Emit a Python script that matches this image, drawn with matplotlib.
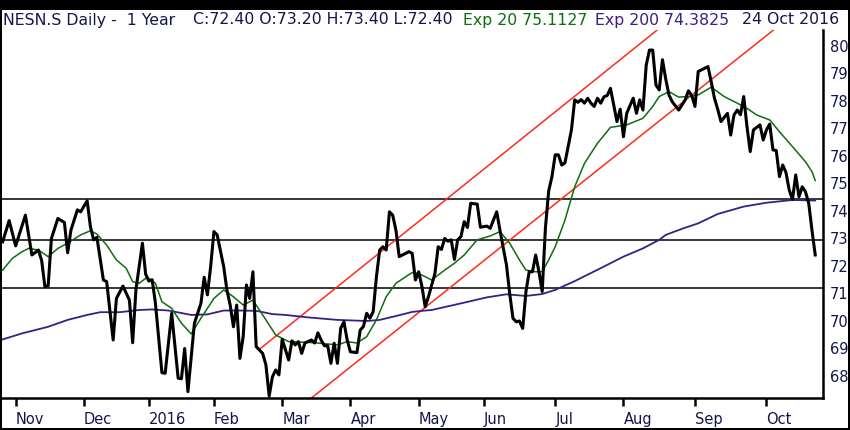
import matplotlib
matplotlib.use("Agg")
import matplotlib.pyplot as plt
from matplotlib.patches import Rectangle

# x = trading session counted from Mon 2 Nov 2015 (SIX calendar)
price_day = [-4, -2, 0, 3, 5, 7, 8, 9, 10, 11, 13, 15, 16, 17, 19, 20, 22, 23, 24, 25,
             27, 28, 30, 31, 33, 35, 36, 37, 39, 40, 41, 42, 43, 45, 46, 48, 50, 51, 52, 53,
             55, 57, 58, 59, 60, 61, 62, 64, 65, 66, 67, 68, 69, 70, 71, 72, 73, 74, 76, 77,
             78, 79, 80, 81, 82, 84, 85, 86, 87, 88, 89, 91, 92, 93, 94, 95, 96, 97, 98, 99,
             100, 101, 102, 103, 105, 106, 107, 108, 109, 110, 111, 112, 113, 114, 115, 116, 117, 118, 119, 121,
             122, 123, 124, 125, 126, 127, 129, 130, 131, 132, 133, 134, 135, 136, 137, 138, 139, 140, 142, 143,
             145, 146, 148, 149, 151, 152, 153, 154, 155, 156, 157, 158, 159, 160, 161, 162, 163, 164, 165, 166,
             167, 168, 169, 171, 172, 173, 174, 175, 176, 177, 178, 179, 180, 181, 182, 183, 184, 185, 186, 187,
             188, 190, 191, 192, 193, 194, 195, 196, 197, 198, 199, 200, 201, 202, 204, 206, 207, 208, 209, 210,
             213, 214, 215, 216, 217, 219, 220, 221, 222, 223, 224, 225, 226, 227, 229, 230, 231, 232, 233, 234,
             235, 236, 237, 238, 239, 240, 241, 242, 243, 244, 245, 246]
price = [72.88, 73.65, 72.73, 73.85, 72.40, 72.58, 72.20, 71.25, 71.27, 73.00, 73.73, 73.58, 72.48, 73.30, 74.04, 73.97, 74.37, 73.43, 72.95, 73.04,
         71.49, 71.43, 69.31, 70.82, 71.27, 70.76, 69.21, 71.13, 72.83, 71.70, 71.45, 71.50, 70.65, 68.12, 68.10, 70.28, 67.92, 67.90, 69.00, 67.43,
         69.92, 70.64, 71.59, 70.95, 71.98, 73.25, 73.13, 71.98, 71.13, 70.58, 69.79, 70.58, 68.64, 69.43, 71.31, 70.82, 71.79, 69.07, 68.82, 68.40,
         67.27, 67.97, 68.22, 68.04, 69.33, 68.58, 69.28, 69.13, 69.25, 68.82, 69.20, 69.31, 69.20, 69.57, 69.30, 69.10, 69.10, 68.46, 69.19, 68.46,
         69.73, 69.97, 69.31, 68.88, 68.85, 69.67, 69.80, 70.28, 70.10, 70.34, 71.61, 72.58, 72.70, 72.58, 73.97, 73.85, 73.30, 72.34, 72.40, 72.52,
         72.46, 71.49, 71.79, 71.25, 70.52, 70.88, 71.73, 72.70, 72.60, 73.00, 72.90, 72.95, 72.24, 72.95, 73.07, 73.61, 73.40, 74.28, 74.25, 73.41,
         73.45, 73.37, 73.97, 73.30, 72.04, 71.00, 70.10, 69.97, 70.00, 69.73, 71.07, 71.79, 71.79, 72.40, 71.79, 71.07, 73.40, 74.73, 75.25, 76.04,
         76.04, 75.67, 75.75, 76.95, 78.04, 77.95, 78.05, 77.92, 78.10, 77.92, 77.80, 78.10, 77.92, 78.15, 78.20, 78.46, 77.85, 77.25, 77.70, 76.70,
         77.55, 78.10, 77.55, 78.04, 77.67, 79.30, 79.85, 79.85, 78.58, 78.40, 79.50, 78.80, 78.22, 77.97, 77.67, 78.04, 78.37, 78.20, 77.80, 79.07,
         79.25, 78.70, 78.10, 77.70, 77.25, 77.55, 76.76, 77.49, 77.67, 77.50, 78.16, 77.07, 76.16, 76.95, 77.13, 76.58, 76.95, 77.16, 76.22, 76.20,
         75.25, 75.67, 75.40, 74.76, 74.42, 75.31, 74.52, 74.88, 74.70, 74.28, 73.30, 72.40]

ema20_day = [-4, -1, 2, 4, 7, 10, 13, 16, 20, 23, 25, 28, 31, 34, 36, 38, 40, 41, 43, 45,
             48, 51, 54, 57, 61, 64, 67, 70, 72, 73, 77, 80, 83, 84, 92, 99, 102, 105, 108, 111,
             114, 117, 120, 122, 124, 128, 132, 135, 138, 142, 146, 149, 152, 155, 157, 160, 162, 164, 166, 169,
             172, 175, 179, 183, 188, 193, 196, 198, 201, 204, 207, 210, 214, 218, 222, 225, 228, 232, 235, 239,
             243, 245, 246]
ema20 = [71.85, 72.28, 72.52, 72.64, 72.58, 72.34, 72.64, 72.83, 73.13, 73.28, 73.16, 72.76, 72.22, 71.92, 71.43, 71.37, 71.55, 71.55, 71.37, 70.70,
         70.46, 69.92, 69.53, 70.10, 70.82, 71.13, 70.88, 70.58, 70.70, 70.76, 70.04, 69.49, 69.31, 69.25, 69.21, 69.13, 69.25, 69.20, 69.43, 70.04,
         70.88, 71.37, 71.61, 71.76, 71.73, 71.49, 71.85, 72.10, 72.40, 72.95, 73.09, 73.25, 72.83, 72.22, 71.85, 71.79, 71.79, 72.22, 72.70, 73.67,
         74.88, 75.73, 76.46, 77.04, 77.13, 77.37, 77.80, 78.16, 78.34, 78.14, 78.16, 78.22, 78.50, 78.16, 77.92, 77.73, 77.49, 77.31, 76.88, 76.34,
         75.79, 75.43, 75.11]

ema200_day = [-4, 2, 10, 16, 22, 26, 32, 38, 42, 47, 54, 59, 64, 69, 74, 79, 83, 90, 99, 108,
              112, 117, 122, 126, 128, 137, 145, 151, 157, 162, 166, 172, 180, 187, 193, 198, 200, 205, 210, 216,
              224, 231, 239, 246]
ema200 = [69.33, 69.55, 69.79, 70.04, 70.22, 70.32, 70.32, 70.40, 70.42, 70.38, 70.22, 70.24, 70.38, 70.38, 70.37, 70.25, 70.22, 70.13, 70.04, 70.00,
          70.04, 70.18, 70.33, 70.38, 70.40, 70.64, 70.86, 70.97, 70.91, 70.98, 71.13, 71.45, 71.92, 72.34, 72.64, 72.95, 73.13, 73.35, 73.55, 73.89,
          74.16, 74.30, 74.40, 74.38]

levels = [74.45, 72.93, 71.20]
upper_day = [75, 198]
upper_val = [68.97, 80.64]
lower_day = [91, 234]
lower_val = [67.20, 80.66]

month_day = [0, 21, 41, 61, 82, 103, 124, 144, 166, 187, 209, 231]
month_lbl = ["Nov", "Dec", "2016", "Feb", "Mar", "Apr", "May", "Jun", "Jul", "Aug", "Sep", "Oct"]
price_ticks = list(range(68, 81))

navy = "#15154f"
green = "#0c6e0c"
purple = "#3b1d85"

W, H = 850, 430
fig = plt.figure(figsize=(W / 100, H / 100), dpi=100)
fig.patch.set_facecolor("black")
fig.patches.append(Rectangle((2 / W, 2 / H), 846 / W, 418 / H, transform=fig.transFigure,
                             facecolor="white", edgecolor="none", zorder=0))

ax = fig.add_axes([2 / W, 32 / H, 820.7 / W, 368 / H])
ax.set_zorder(3)
ax.set_facecolor("none")

for lv in levels:
    ax.axhline(lv, color="black", lw=1.1, zorder=1)
ax.plot(upper_day, upper_val, color="#ff2a1a", lw=1.1, zorder=2)
ax.plot(lower_day, lower_val, color="#ff2a1a", lw=1.1, zorder=2)
ax.plot(ema200_day, ema200, color=purple, lw=1.3, zorder=3)
ax.plot(ema20_day, ema20, color=green, lw=1.1, zorder=4)
ax.plot(price_day, price, color="black", lw=2.2, solid_joinstyle="round", zorder=5)

ax.set_xlim(-4.2, 248.3)
ax.set_ylim(67.2, 80.58)

for s in ["top", "left"]:
    ax.spines[s].set_visible(False)
for s in ["bottom", "right"]:
    ax.spines[s].set_linewidth(1.8)

ax.set_xticks(month_day)
ax.set_xticklabels(month_lbl, ha="left")
ax.tick_params(axis="x", direction="out", length=6, width=1.8, pad=4,
               labelsize=10.5, labelcolor=navy)
ax.yaxis.tick_right()
ax.set_yticks(price_ticks)
ax.tick_params(axis="y", length=0, pad=5, labelsize=10.5, labelcolor=navy)

ty = 1 - 20 / H
fig.text(3 / W, ty, "NESN.S Daily -  1 Year", color=navy, fontsize=11.3, va="center", zorder=5)
fig.text(193 / W, ty, "C:72.40 O:73.20 H:73.40 L:72.40", color=navy, fontsize=11.3, va="center", zorder=5)
fig.text(463 / W, ty, "Exp 20 75.1127", color=green, fontsize=11.3, va="center", zorder=5)
fig.text(595 / W, ty, "Exp 200 74.3825", color=purple, fontsize=11.3, va="center", zorder=5)
fig.text(742 / W, ty, "24 Oct 2016", color=navy, fontsize=11.3, va="center", zorder=5)

fig.savefig("out.png", dpi=100, facecolor=fig.get_facecolor())
